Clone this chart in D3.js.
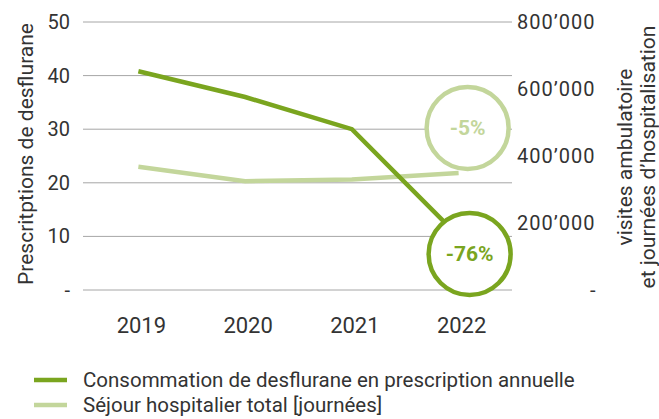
<!DOCTYPE html>
<meta charset="utf-8">
<head>
  <title>Desflurane</title>
</head>
<style>
body { margin: 0; background: #fff; }
text { font-family: Roboto, "Liberation Sans", sans-serif; fill: #333; }
</style>
<body>
<svg width="659" height="419"></svg>
<script src="https://cdnjs.cloudflare.com/ajax/libs/d3/7.8.5/d3.min.js"></script>
<script>
var years = ['2019', '2020', '2021', '2022'];
var desflurane = [40.8, 36, 30, 10];               // prescriptions (left axis)
var sejour = [368000, 325000, 330000, 349000];      // journées (right axis)
var leftTicks = [0, 10, 20, 30, 40, 50];
var rightTicks = [0, 200000, 400000, 600000, 800000];
var seriesNames = ['Consommation de desflurane en prescription annuelle', 'Séjour hospitalier total [journées]'];
var changes = ['-76%', '-5%'];

var dark = '#7aa51f', light = '#c3d69b';
var svg = d3.select('svg');

var x = d3.scaleBand().domain(years).range([85, 512]);
var yL = d3.scaleLinear().domain([0, 50]).range([290, 22]);
var yR = d3.scaleLinear().domain([0, 800000]).range([290, 22]);
var cx = function(d) { return x(d) + x.bandwidth() / 2; };

// grid
svg.selectAll('.grid').data(leftTicks).enter().append('line')
  .attr('x1', 83).attr('x2', 512)
  .attr('y1', function(d) { return yL(d); }).attr('y2', function(d) { return yL(d); })
  .attr('stroke', '#a6a6a6').attr('stroke-width', 1);

svg.selectAll('.lt').data(leftTicks).enter().append('text')
  .attr('x', 70).attr('y', function(d) { return yL(d); })
  .attr('dy', '0.35em').attr('text-anchor', 'end')
  .style('font-size', '20px')
  .text(function(d) { return d === 0 ? '-' : d; });

var fmt = function(d) { return d === 0 ? '-' : d3.format(',')(d).replace(/,/g, '\u2019'); };
svg.selectAll('.rt').data(rightTicks).enter().append('text')
  .attr('x', function(d) { return d === 0 ? 590 : 517; })
  .attr('y', function(d) { return yR(d); })
  .attr('dy', '0.35em')
  .style('font-size', '20px').style('letter-spacing', '1px')
  .text(fmt);

svg.selectAll('.xt').data(years).enter().append('text')
  .attr('x', function(d) { return cx(d) + 3; }).attr('y', 325)
  .attr('dy', '0.35em').attr('text-anchor', 'middle')
  .style('font-size', '22px')
  .text(function(d) { return d; });

// axis titles
svg.append('text')
  .attr('transform', 'translate(33,154) rotate(-90)')
  .attr('text-anchor', 'middle')
  .style('font-size', '21px')
  .text('Prescritptions de desflurane');

svg.append('text')
  .attr('transform', 'translate(632,157) rotate(-90)')
  .attr('text-anchor', 'middle')
  .style('font-size', '21px')
  .text('visites ambulatoire');
svg.append('text')
  .attr('transform', 'translate(655,157) rotate(-90)')
  .attr('text-anchor', 'middle')
  .style('font-size', '21px')
  .text('et journées d\u2019hospitalisation');

// lines
var lineL = d3.line().x(function(d, i) { return cx(years[i]); }).y(function(d) { return yL(d); });
var lineR = d3.line().x(function(d, i) { return cx(years[i]); }).y(function(d) { return yR(d); });

svg.append('path').datum(sejour).attr('d', lineR)
  .attr('fill', 'none').attr('stroke', light).attr('stroke-width', 4.5);
svg.append('path').datum(desflurane).attr('d', lineL)
  .attr('fill', 'none').attr('stroke', dark).attr('stroke-width', 4.5);

// change badges
var badges = [
  { label: changes[1], color: light, x: cx('2022') + 9, y: 128 },
  { label: changes[0], color: dark, x: cx('2022') + 11, y: 254 }
];
var g = svg.selectAll('.badge').data(badges).enter().append('g');
g.append('circle')
  .attr('cx', function(d) { return d.x; }).attr('cy', function(d) { return d.y; })
  .attr('r', 41).attr('fill', '#fff')
  .attr('stroke', function(d) { return d.color; }).attr('stroke-width', 4.5);
g.append('text')
  .attr('x', function(d) { return d.x; }).attr('y', function(d) { return d.y; })
  .attr('dy', '0.35em').attr('text-anchor', 'middle')
  .style('font-size', '21px').style('font-weight', 'bold')
  .style('fill', function(d) { return d.color; })
  .text(function(d) { return d.label; });

// legend
var leg = svg.selectAll('.leg').data(seriesNames).enter().append('g')
  .attr('transform', function(d, i) { return 'translate(0,' + (380 + i * 25) + ')'; });
leg.append('line').attr('x1', 34).attr('x2', 67)
  .attr('stroke', function(d, i) { return i === 0 ? dark : light; })
  .attr('stroke-width', 4.5);
leg.append('text').attr('x', 83).attr('dy', '0.35em')
  .style('font-size', '20.5px')
  .text(function(d) { return d; });
</script>
</body>
</html>
